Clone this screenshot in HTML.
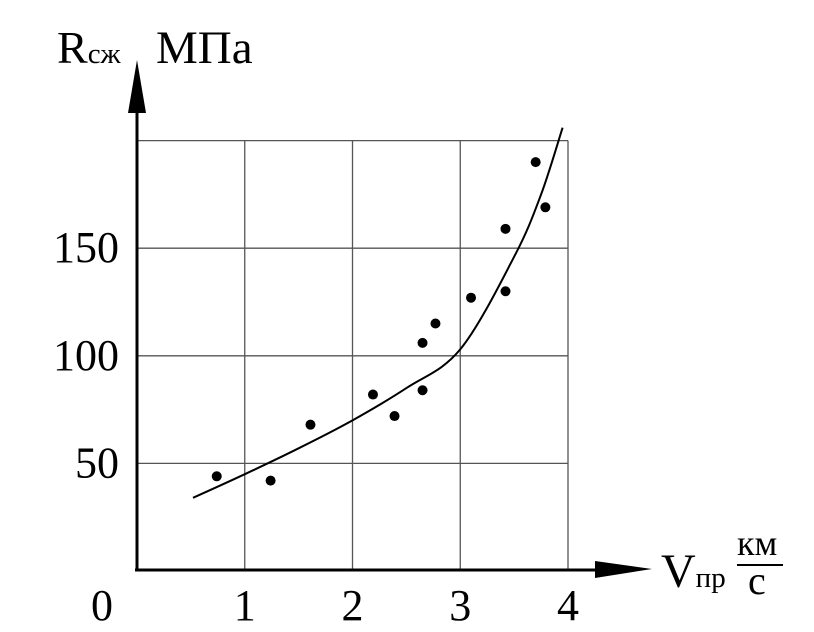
<!DOCTYPE html>
<html><head><meta charset="utf-8"><style>
body{margin:0;background:#fff}
svg{display:block;font-family:"Liberation Serif",serif}
</style></head><body>
<svg width="814" height="632" viewBox="0 0 814 632">
<g id="grid"></g>
<g id="axes">
<line x1="137" y1="571" x2="137" y2="105" stroke="#000" stroke-width="3"/>
<polygon points="137,60 128,113 146,113" fill="#000"/>
<line x1="135" y1="570" x2="600" y2="570" stroke="#000" stroke-width="3"/>
<polygon points="652,569 595,561 595,578" fill="#000"/>
</g>
<g id="ticks" font-size="44" fill="#000"></g>
<path id="curve" fill="none" stroke="#000" stroke-width="2"/>
<g id="points"></g>
<text x="57" y="63" font-size="46">R<tspan font-size="29">сж</tspan></text>
<text x="156" y="63" font-size="47">МПа</text>
<text x="661" y="587" font-size="48">V<tspan font-size="29">пр</tspan></text>
<text x="737" y="555" font-size="36">км</text>
<line x1="737" y1="565" x2="783" y2="565" stroke="#000" stroke-width="2"/>
<text x="748" y="594" font-size="40">с</text>
<text x="102" y="620" font-size="44" text-anchor="middle">0</text>
</svg>
<script>
const xTicks=[1,2,3,4];
const yTicks=[50,100,150];
const ptX=[0.74,1.24,1.61,2.19,2.39,2.65,2.65,2.77,3.10,3.42,3.42,3.70,3.79];
const ptY=[44,42,68,82,72,106,84,115,127,159,130,190,169];
const curveX=[0.52,1,1.5,2,2.5,3,3.5,3.75,3.95];
const curveY=[34,45,57,70,85,103,146,175,206];
const NS="http://www.w3.org/2000/svg";
const sx=v=>137+v*107.75, sy=v=>571-v*2.152;
function mk(tag,attrs,parent){const e=document.createElementNS(NS,tag);for(const k in attrs)e.setAttribute(k,attrs[k]);parent.appendChild(e);return e;}
const grid=document.getElementById('grid'),ticks=document.getElementById('ticks'),pts=document.getElementById('points');
xTicks.forEach(t=>{const l=mk('line',{x1:sx(t),x2:sx(t),y1:sy(200),y2:571,stroke:'#555','stroke-width':1.3},grid);


const tx=mk('text',{x:sx(t),y:620,'text-anchor':'middle'},ticks);tx.textContent=t;

});
[...yTicks,200].forEach(t=>{const l=mk('line',{x1:137,x2:sx(4),y1:sy(t),y2:sy(t),stroke:'#555','stroke-width':1.3},grid);

});
yTicks.forEach(t=>{const tx=mk('text',{x:119,y:sy(t)+14,'text-anchor':'end'},ticks);tx.textContent=t;

});
const P=curveX.map((x,i)=>[sx(x),sy(curveY[i])]);
let d='M'+P[0][0].toFixed(1)+' '+P[0][1].toFixed(1);
for(let i=0;i<P.length-1;i++){const p0=P[i-1]||P[i],p1=P[i],p2=P[i+1],p3=P[i+2]||P[i+1];
const c1=[p1[0]+(p2[0]-p0[0])/6,p1[1]+(p2[1]-p0[1])/6],c2=[p2[0]-(p3[0]-p1[0])/6,p2[1]-(p3[1]-p1[1])/6];
d+=` C${c1[0].toFixed(1)} ${c1[1].toFixed(1)} ${c2[0].toFixed(1)} ${c2[1].toFixed(1)} ${p2[0].toFixed(1)} ${p2[1].toFixed(1)}`;}
document.getElementById('curve').setAttribute('d',d);
ptX.forEach((x,i)=>{const c=mk('circle',{cx:sx(x),cy:sy(ptY[i]),r:5,fill:'#000'},pts);

});
</script>
</body></html>
